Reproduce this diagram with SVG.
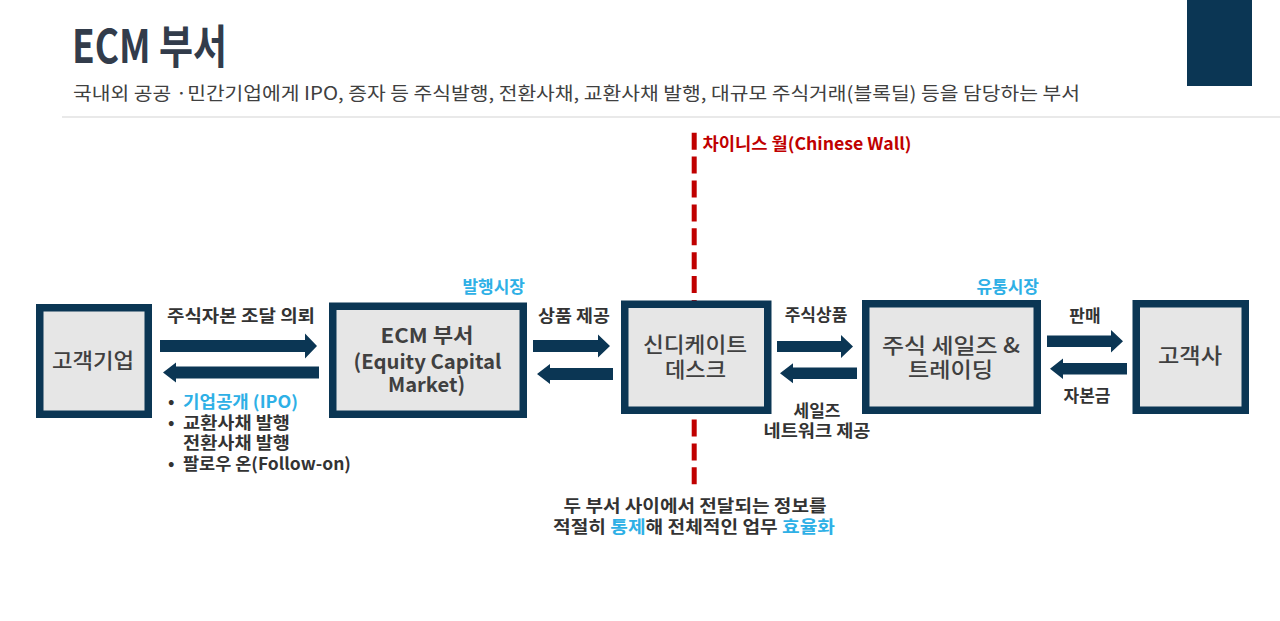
<svg xmlns="http://www.w3.org/2000/svg" width="1280" height="621" viewBox="0 0 1280 621">
  <style>
    text { font-family: "Noto Sans CJK KR", "Noto Sans", sans-serif; }
    .box { fill: #e6e6e6; stroke: #0b3654; stroke-width: 7.5; }
    .arrow { fill: #0b3654; }
    .bt { font-size: 21px; font-weight: 500; fill: #404040; text-anchor: middle; }
    .ecm { font-size: 20px; font-weight: 700; fill: #404040; text-anchor: middle; }
    .lbl { font-size: 17px; font-weight: 700; fill: #333333; text-anchor: middle; }
    .bul { font-size: 17px; font-weight: 700; fill: #333333; }
    .blue { fill: #2eb0e6; }
  </style>

  <!-- header -->
  <g id="header">
    <text x="72" y="63" font-size="46" font-weight="700" fill="#323c4b" textLength="155" lengthAdjust="spacingAndGlyphs">ECM 부서</text>
    <text x="73" y="100" font-size="18.5" fill="#404040" textLength="1007" lengthAdjust="spacingAndGlyphs">국내외 공공 ·민간기업에게 IPO, 증자 등 주식발행, 전환사채, 교환사채 발행, 대규모 주식거래(블록딜) 등을 담당하는 부서</text>
    <line x1="62" y1="117" x2="1280" y2="117" stroke="#e2e2e2" stroke-width="1.5"/>
    <rect x="1187" y="0" width="65" height="86" fill="#0b3654"/>
  </g>

  <!-- chinese wall -->
  <g id="chinese-wall">
    <line x1="694.2" y1="132.7" x2="694.2" y2="484.5" stroke="#c00000" stroke-width="5" stroke-dasharray="17 6.9"/>
    <text x="702.5" y="150" font-size="17" font-weight="700" fill="#c00000" textLength="209" lengthAdjust="spacingAndGlyphs">차이니스 월(Chinese Wall)</text>
  </g>

  <!-- connectors -->
  <g id="connectors">
    <polygon class="arrow" points="160,340 305,340 305,333.5 317,346 305,358.5 305,352 160,352"/>
    <polygon class="arrow" points="319,366.5 176,366.5 176,362.5 163,372.5 176,382.5 176,378.5 319,378.5"/>
    <polygon class="arrow" points="533,340 598,340 598,334.5 610,346 598,357.5 598,352 533,352"/>
    <polygon class="arrow" points="613,368 550,368 550,364 537,374 550,384 550,380 613,380"/>
    <polygon class="arrow" points="777,341 841,341 841,335 853,346.5 841,358 841,352 777,352"/>
    <polygon class="arrow" points="857,367.5 793,367.5 793,363.3 780,373.3 793,383.3 793,379 857,379"/>
    <polygon class="arrow" points="1047,335.5 1111,335.5 1111,330 1123,341.3 1111,352.5 1111,347 1047,347"/>
    <polygon class="arrow" points="1127,363 1063,363 1063,358.5 1050,368.7 1063,379 1063,374.5 1127,374.5"/>

    <text class="lbl" x="241" y="322" textLength="148" lengthAdjust="spacingAndGlyphs">주식자본 조달 의뢰</text>
    <text class="lbl" x="574" y="322" textLength="72" lengthAdjust="spacingAndGlyphs">상품 제공</text>
    <text class="lbl" x="816" y="321">주식상품</text>
    <text class="lbl" x="817" y="417">세일즈<tspan x="817" dy="20" textLength="107" lengthAdjust="spacingAndGlyphs">네트워크 제공</tspan></text>
    <text class="lbl" x="1085" y="322">판매</text>
    <text class="lbl" x="1087" y="402">자본금</text>

    <text class="bul" x="168" y="408">•<tspan x="183" class="blue" textLength="115" lengthAdjust="spacingAndGlyphs">기업공개 (IPO)</tspan><tspan x="168" dy="20.5">•</tspan><tspan x="183" textLength="107" lengthAdjust="spacingAndGlyphs">교환사채 발행</tspan><tspan x="183" dy="20.5" textLength="107" lengthAdjust="spacingAndGlyphs">전환사채 발행</tspan><tspan x="168" dy="20.5">•</tspan><tspan x="183" textLength="168" lengthAdjust="spacingAndGlyphs">팔로우 온(Follow-on)</tspan></text>
  </g>

  <!-- nodes -->
  <g id="node-client-company">
    <rect class="box" x="39.75" y="307.75" width="108.5" height="106.5"/>
    <text class="bt" x="93" y="368" textLength="82" lengthAdjust="spacingAndGlyphs">고객기업</text>
  </g>

  <g id="node-ecm">
    <rect class="box" x="332.75" y="306.25" width="190.5" height="108"/>
    <text class="lbl blue" x="525" y="293" style="text-anchor:end">발행시장</text>
    <text class="ecm" x="427" y="343"><tspan x="427" textLength="93" lengthAdjust="spacingAndGlyphs">ECM 부서</tspan><tspan x="427.5" dy="26" textLength="148" lengthAdjust="spacingAndGlyphs">(Equity Capital</tspan><tspan x="426.5" dy="23" textLength="77" lengthAdjust="spacingAndGlyphs">Market)</tspan></text>
  </g>

  <g id="node-syndicate">
    <rect class="box" x="624.75" y="304.25" width="143" height="106"/>
    <text class="bt" x="695" y="352"><tspan x="695" textLength="104" lengthAdjust="spacingAndGlyphs">신디케이트</tspan><tspan x="695.5" dy="25" textLength="61" lengthAdjust="spacingAndGlyphs">데스크</tspan></text>
  </g>

  <g id="node-sales-trading">
    <rect class="box" x="865.75" y="303.75" width="171.5" height="106.5"/>
    <text class="lbl blue" x="1039" y="293" style="text-anchor:end">유통시장</text>
    <text class="bt" x="951" y="353"><tspan x="951" textLength="138" lengthAdjust="spacingAndGlyphs">주식 세일즈 &amp;</tspan><tspan x="950.5" dy="24" textLength="85" lengthAdjust="spacingAndGlyphs">트레이딩</tspan></text>
  </g>

  <g id="node-client">
    <rect class="box" x="1136.25" y="303.75" width="109" height="106.5"/>
    <text class="bt" x="1190" y="363" textLength="64" lengthAdjust="spacingAndGlyphs">고객사</text>
  </g>

  <g id="note">
    <text class="lbl" x="695" y="512"><tspan x="695" textLength="263" lengthAdjust="spacingAndGlyphs">두 부서 사이에서 전달되는 정보를</tspan><tspan x="694" dy="21" textLength="282" lengthAdjust="spacingAndGlyphs">적절히 <tspan class="blue">통제</tspan>해 전체적인 업무 <tspan class="blue">효율화</tspan></tspan></text>
  </g>
</svg>
